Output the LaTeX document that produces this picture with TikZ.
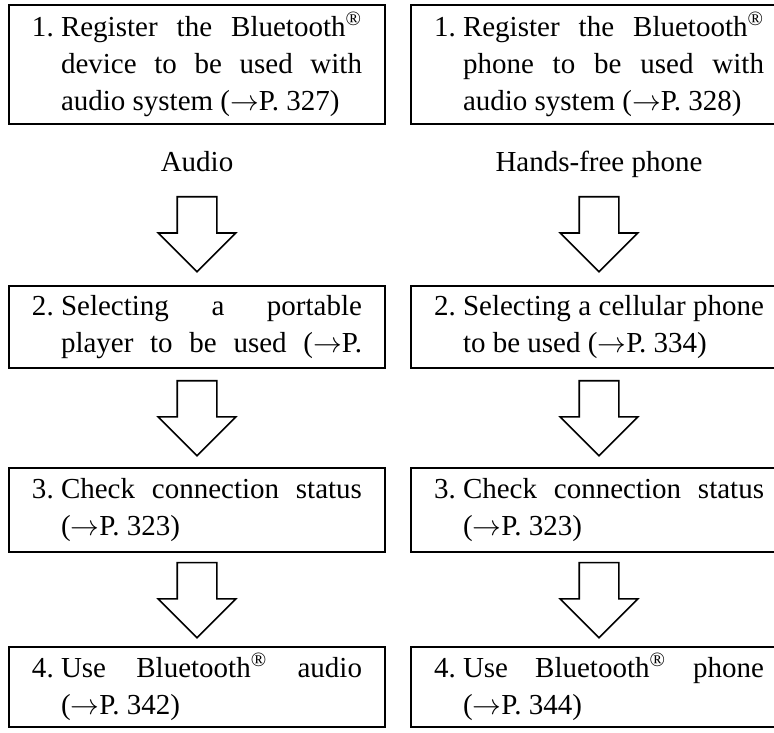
\documentclass[tikz,border=0pt]{standalone}
\usepackage{fontspec}
\setmainfont{Liberation Serif}
\usepackage{tikz}
\usetikzlibrary{shapes.arrows,positioning}
\newcommand{\steptext}[2]{\noindent\hyphenpenalty=10000\hangindent=1em\hangafter=1\makebox[1em][l]{#1.}#2\par}
\newcommand{\btreg}{Bluetooth\textsuperscript{\textregistered}}
\tikzset{
    stepbox/.style={rectangle, draw, line width=1pt, text width=165pt, align=justify,
                    inner xsep=11.5pt, inner ysep=3pt,
                    font=\fontsize{14.5}{18.5}\selectfont},
    downarrow/.style={single arrow, draw, line width=0.8pt, shape border rotate=270,
                      minimum width=38pt, minimum height=37.5pt, inner sep=9.5pt,
                      single arrow head extend=9.5pt, single arrow tip angle=90},
    caption/.style={inner sep=0pt, font=\fontsize{14.5}{18.5}\selectfont},
}
\begin{document}
\begin{tikzpicture}[x=0.5pt, y=-0.5pt]
        \useasboundingbox (0,0) rectangle (774,732);
        \clip (0,0) rectangle (774,732);

        % Audio
        \node [stepbox, minimum height=59.5pt] (audio1) at (197,64.5)
            {\steptext{1}{Register the \btreg\linebreak device to be used with\linebreak audio system ($\rightarrow$P.~327)}};
        \node [caption, below=13pt of audio1] (audiolbl) {Audio};
        \node [downarrow, below=35.5pt of audio1, anchor=tail] (audio12) {};
        \node [stepbox, minimum height=41pt, below=6pt of audio12.tip] (audio2)
            {\steptext{2}{Selecting a portable\linebreak player to be used ($\rightarrow$P.\parfillskip=0pt}};
        \node [downarrow, below=5.5pt of audio2, anchor=tail] (audio23) {};
        \node [stepbox, minimum height=42pt, below=5pt of audio23.tip] (audio3)
            {\steptext{3}{Check connection status\linebreak ($\rightarrow$P.~323)}};
        \node [downarrow, below=4.5pt of audio3, anchor=tail] (audio34) {};
        \node [stepbox, minimum height=40pt, below=3.5pt of audio34.tip] (audio4)
            {\steptext{4}{Use \btreg{} audio\linebreak ($\rightarrow$P.~342)}};

        % Hands-free phone
        \node [stepbox, minimum height=59.5pt, right=12pt of audio1] (phone1)
            {\steptext{1}{Register the \btreg\linebreak phone to be used with\linebreak audio system ($\rightarrow$P.~328)}};
        \node [caption, below=13pt of phone1] (phonelbl) {Hands-free phone};
        \node [downarrow, below=35.5pt of phone1, anchor=tail] (phone12) {};
        \node [stepbox, minimum height=41pt, below=6pt of phone12.tip] (phone2)
            {\steptext{2}{Selecting a cellular phone\linebreak to be used ($\rightarrow$P.~334)}};
        \node [downarrow, below=5.5pt of phone2, anchor=tail] (phone23) {};
        \node [stepbox, minimum height=42pt, below=5pt of phone23.tip] (phone3)
            {\steptext{3}{Check connection status\linebreak ($\rightarrow$P.~323)}};
        \node [downarrow, below=4.5pt of phone3, anchor=tail] (phone34) {};
        \node [stepbox, minimum height=40pt, below=3.5pt of phone34.tip] (phone4)
            {\steptext{4}{Use \btreg{} phone\linebreak ($\rightarrow$P.~344)}};
\end{tikzpicture}
\end{document}
